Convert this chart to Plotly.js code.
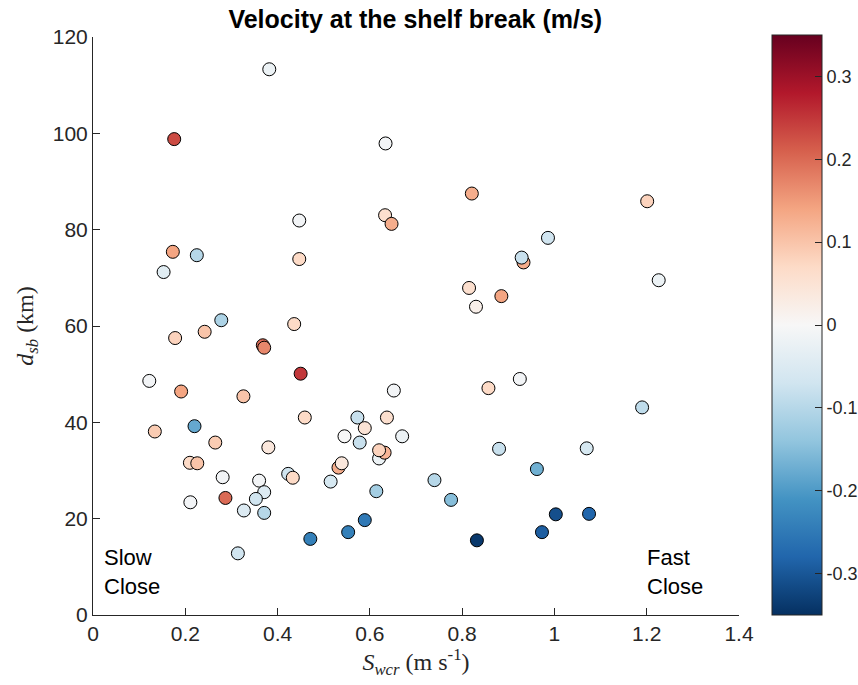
<!DOCTYPE html>
<html>
<head>
<meta charset="utf-8">
<script src="https://cdn.plot.ly/plotly-3.0.1.min.js"></script>
<style>html,body{margin:0;padding:0;background:#fff;}#chart{width:858px;height:685px;}</style>
</head>
<body>
<div id="chart"></div>
<script>
// Wind/current speed S_wcr (m/s)
var swcr = [0.382,0.176,0.447,0.173,0.225,0.153,0.447,0.278,0.178,0.242,0.436,0.368,0.371,0.122,0.450,0.191,0.326,0.459,0.134,0.220,0.265,0.380,0.210,0.226,0.281,0.360,0.423,0.433,0.515,0.211,0.287,0.371,0.353,0.327,0.371,0.471,0.314,0.634,0.821,0.633,0.647,0.986,0.933,0.929,0.815,0.885,0.830,0.652,0.857,0.925,0.573,0.637,0.589,0.545,0.670,0.578,0.620,0.632,0.620,0.532,0.539,0.740,0.880,0.962,1.070,0.614,0.776,0.589,0.553,1.003,0.973,0.832,1.201,1.226,1.190,1.075];
// Distance to shelf break d_sb (km)
var dsb = [113.3,98.8,81.9,75.4,74.7,71.2,73.9,61.2,57.5,58.8,60.4,56.0,55.5,48.6,50.1,46.4,45.4,41.0,38.1,39.2,35.8,34.8,31.6,31.5,28.6,27.9,29.3,28.5,27.7,23.4,24.3,25.5,24.1,21.7,21.2,15.8,12.8,97.9,87.5,83.0,81.2,78.3,73.2,74.2,67.9,66.2,64.0,46.6,47.1,49.0,41.0,41.0,38.8,37.1,37.1,35.8,32.5,33.7,34.2,30.6,31.5,28.0,34.5,30.3,34.6,25.7,23.9,19.7,17.2,20.9,17.2,15.5,85.9,69.5,43.1,21.0];
// Velocity at the shelf break (m/s)
var vel = [-0.02,0.23,-0.01,0.14,-0.10,-0.04,0.07,-0.11,0.08,0.10,0.07,0.20,0.17,-0.01,0.25,0.14,0.10,0.07,0.09,-0.18,0.09,0.04,0.07,0.10,-0.01,-0.01,-0.07,0.07,-0.06,-0.01,0.20,-0.05,-0.07,-0.05,-0.10,-0.24,-0.07,-0.01,0.13,0.06,0.13,-0.07,0.13,-0.08,0.06,0.14,0.02,-0.01,0.07,-0.01,-0.08,0.06,0.05,0.0,-0.02,-0.08,-0.02,0.12,0.08,0.13,0.04,-0.10,-0.08,-0.17,-0.06,-0.12,-0.15,-0.25,-0.24,-0.31,-0.29,-0.34,0.08,-0.02,-0.09,-0.28];
var cbTicks = [-0.3,-0.2,-0.1,0,0.1,0.2,0.3];
var cbTickText = ['-0.3','-0.2','-0.1','0','0.1','0.2','0.3'];
var xTicks = [0,0.2,0.4,0.6,0.8,1,1.2,1.4];
var yTicks = [0,20,40,60,80,100,120];

var rdbu = [
  [0.0,'#053061'],[0.1,'#2166ac'],[0.2,'#4393c3'],[0.3,'#92c5de'],[0.4,'#d1e5f0'],
  [0.5,'#f7f7f7'],[0.6,'#fddbc7'],[0.7,'#f4a582'],[0.8,'#d6604d'],[0.9,'#b2182b'],[1.0,'#67001f']
];

var trace = {
  x: swcr, y: dsb, type: 'scatter', mode: 'markers',
  marker: {
    size: 13, color: vel, colorscale: rdbu, cmin: -0.35, cmax: 0.35,
    line: {color: '#000', width: 1},
    colorbar: {
      x: 1.051, xanchor: 'left', xpad: 0,
      y: 0.5017, yanchor: 'middle', ypad: 0,
      len: 580, lenmode: 'pixels', thickness: 50,
      outlinewidth: 1, outlinecolor: '#262626',
      ticks: 'inside', ticklen: 7, tickcolor: '#262626',
      tickvals: cbTicks, ticktext: cbTickText,
      tickfont: {family: 'Liberation Sans, Arial, sans-serif', size: 18, color: '#262626'}
    }
  },
  hoverinfo: 'x+y'
};

var axFont = {family: 'Liberation Sans, Arial, sans-serif', size: 21, color: '#262626'};
var layout = {
  width: 858, height: 685,
  margin: {l: 93, r: 119, t: 37, b: 70, autoexpand: false},
  paper_bgcolor: '#fff', plot_bgcolor: '#fff',
  showlegend: false,
  title: {text: '<b>Velocity at the shelf break (m/s)</b>', x: 0.484, xanchor: 'center', y: 0.972, yanchor: 'middle',
    font: {family: 'Liberation Sans, Arial, sans-serif', size: 25, color: '#000'}},
  xaxis: {
    range: [0, 1.4], tickvals: xTicks, ticktext: xTicks.map(String),
    showline: true, linecolor: '#262626', linewidth: 1, mirror: false,
    ticks: 'inside', ticklen: 7, tickcolor: '#262626', showgrid: false, zeroline: false,
    tickfont: axFont,
    title: {text: '<i>S</i><sub><i>wcr</i></sub> (m s<sup>-1</sup>)', standoff: 5,
      font: {family: 'Liberation Serif, Times New Roman, serif', size: 24, color: '#262626'}}
  },
  yaxis: {
    range: [0, 120], tickvals: yTicks, ticktext: yTicks.map(String),
    showline: true, linecolor: '#262626', linewidth: 1, mirror: false,
    ticks: 'inside', ticklen: 7, tickcolor: '#262626', showgrid: false, zeroline: false,
    tickfont: axFont,
    title: {text: '<i>d</i><sub><i>sb</i></sub> (km)', standoff: 12,
      font: {family: 'Liberation Serif, Times New Roman, serif', size: 24, color: '#262626'}}
  },
  annotations: [
    {x: 0.02, y: 15, xref: 'x', yref: 'y', xanchor: 'left', yanchor: 'top', align: 'left', showarrow: false,
     text: 'Slow<br>Close', font: {family: 'Liberation Sans, Arial, sans-serif', size: 22, color: '#000'}},
    {x: 1.196, y: 15, xref: 'x', yref: 'y', xanchor: 'left', yanchor: 'top', align: 'left', showarrow: false,
     text: 'Fast<br>Close', font: {family: 'Liberation Sans, Arial, sans-serif', size: 22, color: '#000'}}
  ]
};

Plotly.newPlot('chart', [trace], layout, {displayModeBar: false, staticPlot: true});
</script>
</body>
</html>
